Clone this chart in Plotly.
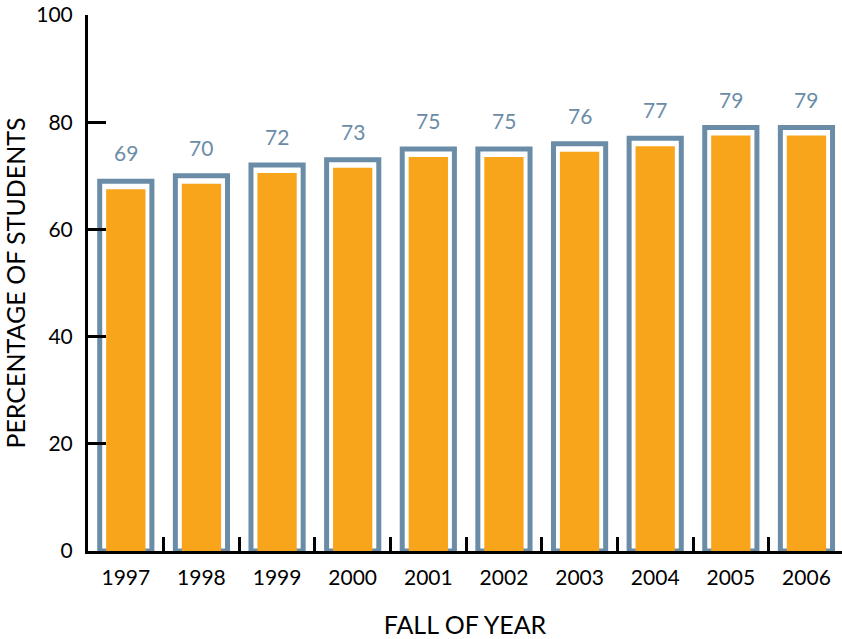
import plotly.graph_objects as go

years = ["1997", "1998", "1999", "2000", "2001", "2002", "2003", "2004", "2005", "2006"]
percent = [69, 70, 72, 73, 75, 75, 76, 77, 79, 79]
y_ticks = [0, 20, 40, 60, 80, 100]

INNER_GAP = 1.5
inner = [v - INNER_GAP for v in percent]

BLUE = "#6a8ca7"
ORANGE = "#f8a51c"
FONT = "Lato, 'Open Sans', sans-serif"

fig = go.Figure()
fig.add_trace(go.Bar(
    x=years, y=percent, width=0.69,
    marker=dict(color="white", line=dict(color=BLUE, width=5)),
    hoverinfo="skip", showlegend=False,
))
fig.add_trace(go.Bar(
    x=years, y=inner, width=0.52,
    marker=dict(color=ORANGE, line=dict(width=0)),
    hoverinfo="skip", showlegend=False,
))

for i, v in enumerate(percent):
    fig.add_annotation(x=i, y=v, xref="x", yref="y", text=str(v), showarrow=False,
                       yanchor="bottom", yshift=14,
                       font=dict(family=FONT, size=21, color=BLUE))

fig.update_layout(
    width=842, height=639,
    margin=dict(l=88, r=0, t=15, b=88),
    paper_bgcolor="white", plot_bgcolor="white",
    barmode="overlay",
    font=dict(family=FONT, size=21, color="black"),
    xaxis=dict(
        type="category", range=[-0.5, 9.47], automargin=False,
        showline=True, linewidth=3, linecolor="black",
        ticks="inside", tickson="boundaries", ticklen=14, tickwidth=3, tickcolor="black",
        showgrid=False, ticklabelstandoff=6,
        title=dict(text="FALL OF YEAR", standoff=29, font=dict(size=25)),
        tickfont=dict(size=21),
    ),
    yaxis=dict(
        range=[0, 100], tickvals=y_ticks, automargin=False,
        showline=True, linewidth=3, linecolor="black",
        ticks="inside", ticklen=18, tickwidth=3, tickcolor="black",
        showgrid=False, zeroline=False, ticklabelstandoff=8,
        title=dict(text="PERCENTAGE OF STUDENTS", standoff=20, font=dict(size=25)),
        tickfont=dict(size=21),
    ),
)

fig.write_html("out.html", config={"displayModeBar": False},
               post_script="document.body.style.margin='0';document.body.style.overflow='hidden';")
